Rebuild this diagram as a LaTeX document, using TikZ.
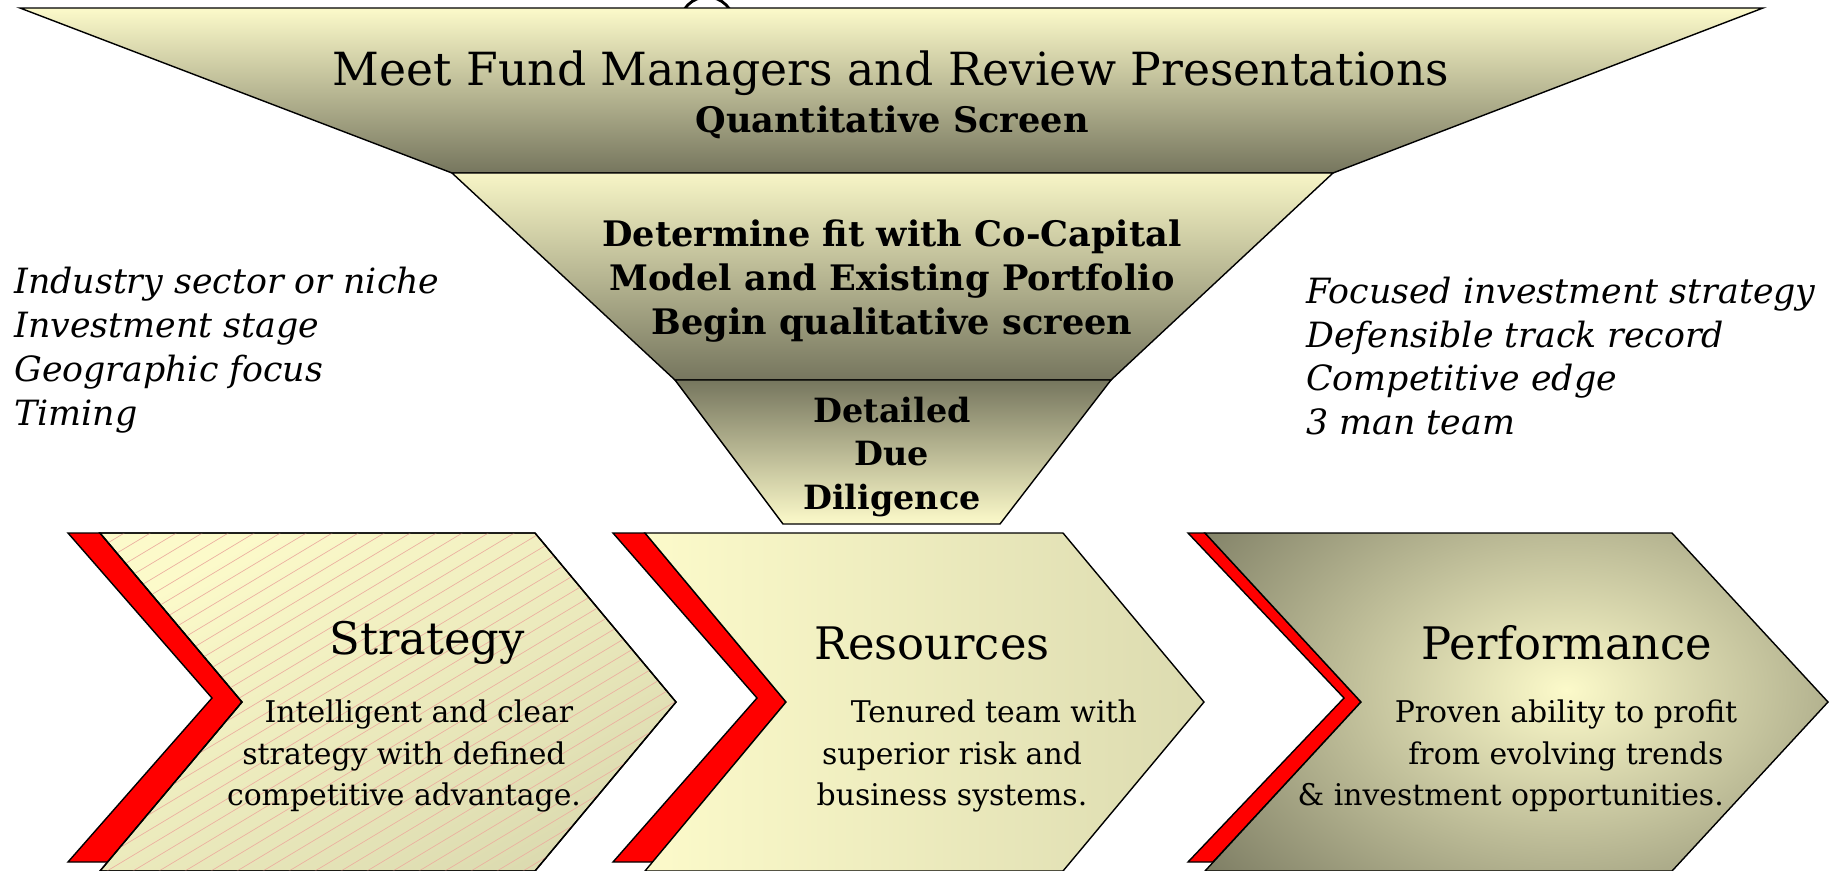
\documentclass[tikz,border=0pt]{standalone}
\usepackage{fontspec}
\setmainfont{DejaVu Serif}
\definecolor{paleyellow}{HTML}{FCFACA}
\definecolor{khaki}{HTML}{DCDBB0}
\definecolor{funneldark}{HTML}{76765E}
\definecolor{hatchpink}{RGB}{236,176,160}
\begin{document}
\begin{tikzpicture}[x=0.02cm, y=-0.02cm,
    edge/.style={draw=black, line width=0.8pt, line join=miter},
    redband/.style={edge, fill=red},
    hatch/.style={hatchpink, line width=0.4pt},
    ttl/.style={font=\fontsize{26}{30}\selectfont},
    stepbold/.style={font=\bfseries\fontsize{20}{25}\selectfont, align=center},
    criteria/.style={font=\itshape\fontsize{19.8}{25}\selectfont, align=left, anchor=west, inner sep=0pt},
    chevtitle/.style={font=\fontsize{25.5}{30}\selectfont},
    chevbody/.style={font=\fontsize{17}{23.5}\selectfont, align=center}]

    \useasboundingbox (0,0) rectangle (1833,870);
    \clip (0,0) rectangle (1833,870);

    % ring sticking out above the funnel
    \draw[line width=1.6pt] (707,24) circle (27);

    % funnel
    \shadedraw[edge, top color=paleyellow, bottom color=funneldark]
        (20,8) -- (1763,8) -- (1333,173) -- (452,173) -- cycle;
    \shadedraw[edge, top color=paleyellow!85!khaki, bottom color=funneldark]
        (452,173) -- (1333,173) -- (1111,380) -- (675,380) -- cycle;
    \shadedraw[edge, top color=funneldark, bottom color=paleyellow]
        (675,380) -- (1111,380) -- (1000,524) -- (783,524) -- cycle;

    \node[ttl] (meet) at (891,73) {Meet Fund Managers and Review Presentations};
    \node[stepbold] (quant) at (892,122) {Quantitative Screen};
    \node[stepbold] (fit) at (892,281) {Determine fit with Co-Capital\\Model and Existing Portfolio\\Begin qualitative screen};
    \node[stepbold, font=\bfseries\fontsize{19}{25}\selectfont] (due) at (892,457) {Detailed\\Due\\Diligence};

    \node[criteria] (fitlist) at (14,350) {Industry sector or niche\\Investment stage\\Geographic focus\\Timing};
    \node[criteria] (duelist) at (1306,356) {Focused investment strategy\\Defensible track record\\Competitive edge\\3 man team};

    % chevrons
    \filldraw[redband] (68,533) -- (100,533) -- (242,702) -- (108,862) -- (68,862) -- (212,698) -- cycle;
    \shadedraw[edge, top color=paleyellow, bottom color=khaki, shading angle=30]
        (100,533) -- (535,533) -- (676,702) -- (535,871) -- (100,871) -- (242,702) -- cycle;
    \begin{scope}
        \clip (100,533) -- (535,533) -- (676,702) -- (535,871) -- (100,871) -- (242,702) -- cycle;
        \foreach \s in {-480,-454,...,680}
            \draw[hatch] (\s,880) -- ++(620,-372);
    \end{scope}
    \draw[edge] (100,533) -- (535,533) -- (676,702) -- (535,871) -- (100,871) -- (242,702) -- cycle;

    \filldraw[redband] (613,533) -- (645,533) -- (786,702) -- (653,862) -- (613,862) -- (757,698) -- cycle;
    \shadedraw[edge, left color=paleyellow, right color=khaki]
        (645,533) -- (1063,533) -- (1204,702) -- (1063,871) -- (645,871) -- (786,702) -- cycle;

    \filldraw[redband] (1188,533) -- (1205,533) -- (1361,702) -- (1213,862) -- (1188,862) -- (1344,698) -- cycle;
    \begin{scope}
        \clip (1205,533) -- (1672,533) -- (1828,702) -- (1672,871) -- (1205,871) -- (1361,702) -- cycle;
        \fill[funneldark] (1205,533) rectangle (1833,871);
        \shade[inner color=paleyellow, outer color=funneldark] (1566,690) ellipse (480 and 320);
    \end{scope}
    \draw[edge] (1205,533) -- (1672,533) -- (1828,702) -- (1672,871) -- (1205,871) -- (1361,702) -- cycle;

    \node[chevtitle] (strategy) at (427,643) {Strategy};
    \node[chevtitle] (resources) at (932,643) {Resources};
    \node[chevtitle] (performance) at (1567,643) {Performance};

    \node[chevbody] (strategytxt) at (404,756) {\hspace*{1em}Intelligent and clear\\strategy with defined\\competitive advantage.};
    \node[chevbody] (resourcestxt) at (952,756) {\hspace*{2.8em}Tenured team with\\superior risk and\\business systems.};
    \node[chevbody] (performancetxt) at (1566,756) {Proven ability to profit\\from evolving trends\\\& investment opportunities.\hspace*{3.7em}\mbox{}};
\end{tikzpicture}
\end{document}
